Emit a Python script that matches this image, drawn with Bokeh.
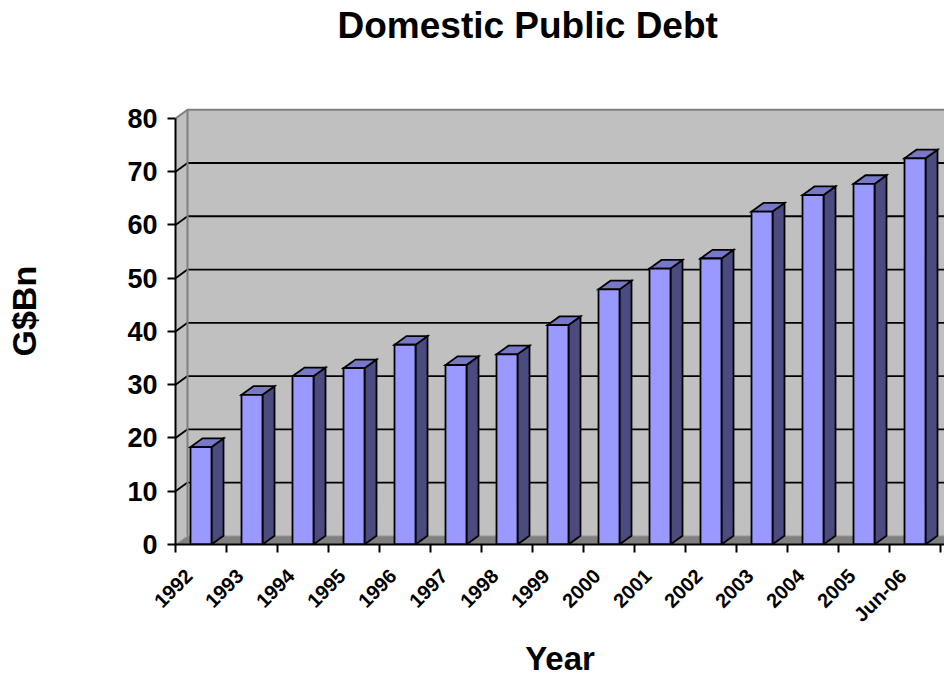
from math import pi
from bokeh.plotting import figure
from bokeh.models import Range1d, FixedTicker, LinearAxis, Title
from bokeh.embed import file_html
from bokeh.resources import INLINE

# ---- data ----
categories = ["1992", "1993", "1994", "1995", "1996", "1997", "1998", "1999",
              "2000", "2001", "2002", "2003", "2004", "2005", "Jun-06"]
debt = [18.3, 28.1, 31.6, 33.1, 37.5, 33.7, 35.7, 41.2,
        47.9, 51.8, 53.7, 62.5, 65.6, 67.7, 72.5]
y_ticks = [0, 10, 20, 30, 40, 50, 60, 70, 80]

title_text = "Domestic Public Debt"
x_title = "Year"
y_title = "G$Bn"

# ---- layout (pixels) ----
W, H = 944, 677
FRAME_LEFT, FRAME_TOP, FRAME_BOTTOM = 175, 50, 546
frame_w = W - FRAME_LEFT
frame_h = FRAME_BOTTOM - FRAME_TOP
PX_CAT = 51.0
PX_VAL = 428.7 / 80.0

x0 = -0.5
x_end = x0 + frame_w / PX_CAT
y_end = frame_h / PX_VAL

DX = 12.0 / PX_CAT      # 3-D depth, horizontal
DY = 8.7 / PX_VAL       # 3-D depth, vertical
BW = 21.0 / PX_CAT      # bar front width
LABEL_SHIFT = 12.0 / PX_CAT

FONT = "Liberation Sans"

p = figure(width=W, height=H, x_range=Range1d(x0, x_end), y_range=Range1d(0, y_end),
           output_backend="svg", toolbar_location=None,
           x_axis_type=None, y_axis_type=None,
           min_border_left=FRAME_LEFT, min_border_top=FRAME_TOP,
           min_border_bottom=H - FRAME_BOTTOM, min_border_right=0)
p.outline_line_color = None
p.background_fill_color = "white"
p.border_fill_color = "white"

n = len(categories)
xs = list(range(n))
top_val = max(y_ticks)
x_far = n - 0.5 + 1.0

# back wall
p.quad(left=[x0 + DX], right=[x_far], bottom=[DY], top=[top_val + DY],
       fill_color="#C0C0C0", line_color=None)
# side wall
p.patch([x0, x0 + DX, x0 + DX, x0], [0, DY, top_val + DY, top_val],
        fill_color="#C0C0C0", line_color=None)
# floor
p.patch([x0, x_far, x_far, x0 + DX], [0, 0, DY, DY],
        fill_color="#808080", line_color="#A0A0A0", line_width=1)

# gridlines on back wall and side wall
grid_vals = y_ticks[1:-1]
p.multi_line([[x0 + DX, x_far] for v in grid_vals], [[v + DY, v + DY] for v in grid_vals],
             line_color="black", line_width=1.8)
p.multi_line([[x0, x0 + DX] for v in grid_vals], [[v, v + DY] for v in grid_vals],
             line_color="black", line_width=1.8)
# wall edges
p.line([x0 + DX, x0 + DX, x_far], [DY, top_val + DY, top_val + DY],
       line_color="#808080", line_width=2)
p.line([x0, x0 + DX], [top_val, top_val + DY], line_color="#808080", line_width=2)

# bars
side_xs = [[c + BW / 2, c + BW / 2 + DX, c + BW / 2 + DX, c + BW / 2] for c in xs]
side_ys = [[0, DY, v + DY, v] for v in debt]
top_xs = [[c - BW / 2, c + BW / 2, c + BW / 2 + DX, c - BW / 2 + DX] for c in xs]
top_ys = [[v, v, v + DY, v + DY] for v in debt]
p.patches(side_xs, side_ys, fill_color="#4B4B80", line_color="black", line_width=1.8,
          line_join="miter")
p.patches(top_xs, top_ys, fill_color="#7878C8", line_color="black", line_width=1.8,
          line_join="miter")
p.vbar(x=xs, width=BW, top=debt, bottom=0, fill_color="#9999FF",
       line_color="black", line_width=1.8, line_join="miter")

# y axis
yaxis = LinearAxis(ticker=FixedTicker(ticks=y_ticks, minor_ticks=[]), bounds=(0, top_val))
yaxis.axis_line_color = "black"
yaxis.axis_line_width = 2
yaxis.major_tick_out = 8
yaxis.major_tick_in = 0
yaxis.major_tick_line_width = 2
yaxis.minor_tick_out = 0
yaxis.minor_tick_in = 0
yaxis.major_label_standoff = 10
yaxis.major_label_text_font = FONT
yaxis.major_label_text_font_size = "27px"
yaxis.major_label_text_font_style = "bold"
yaxis.major_label_text_color = "black"
p.add_layout(yaxis, "left")

# blank spacer axis: pushes the y title out to the left edge
spacer = LinearAxis(ticker=FixedTicker(ticks=[y_ticks[0]], minor_ticks=[]),
                    major_label_overrides={y_ticks[0]: ""})
spacer.axis_line_color = None
spacer.major_tick_line_color = "white"
spacer.major_tick_line_width = 1
spacer.minor_tick_line_color = None
spacer.major_tick_out = 76
spacer.major_tick_in = 0
spacer.minor_tick_out = 0
spacer.minor_tick_in = 0
spacer.major_label_standoff = 0
p.add_layout(spacer, "left")

# x axis: boundary tick marks, labels near each category centre
label_pos = [c - LABEL_SHIFT for c in xs]
boundaries = [c - 0.5 for c in xs] + [xs[-1] + 0.5]
xaxis = LinearAxis(ticker=FixedTicker(ticks=label_pos, minor_ticks=boundaries),
                   major_label_overrides={pos: lab for pos, lab in zip(label_pos, categories)})
xaxis.axis_line_color = "black"
xaxis.axis_line_width = 2
xaxis.major_tick_out = 0
xaxis.major_tick_in = 0
xaxis.minor_tick_out = 8
xaxis.minor_tick_in = 0
xaxis.minor_tick_line_color = "black"
xaxis.minor_tick_line_width = 2
xaxis.major_label_orientation = pi / 4
xaxis.major_label_standoff = 20
xaxis.major_label_text_font = FONT
xaxis.major_label_text_font_size = "20px"
xaxis.major_label_text_font_style = "bold"
xaxis.major_label_text_color = "black"
p.add_layout(xaxis, "below")

# titles
p.add_layout(Title(text=title_text, align="left", offset=162, vertical_align="top",
                   standoff=8, text_font=FONT, text_font_size="37px",
                   text_font_style="bold", text_color="black"), "above")
p.add_layout(Title(text=x_title, align="center", vertical_align="bottom", standoff=2,
                   text_font=FONT, text_font_size="33px", text_font_style="bold",
                   text_color="black"), "below")
p.add_layout(Title(text=y_title, align="left", offset=188, vertical_align="top",
                   standoff=8, text_font=FONT, text_font_size="34px",
                   text_font_style="bold", text_color="black"), "left")

open("out.html", "w").write(file_html(p, INLINE))
